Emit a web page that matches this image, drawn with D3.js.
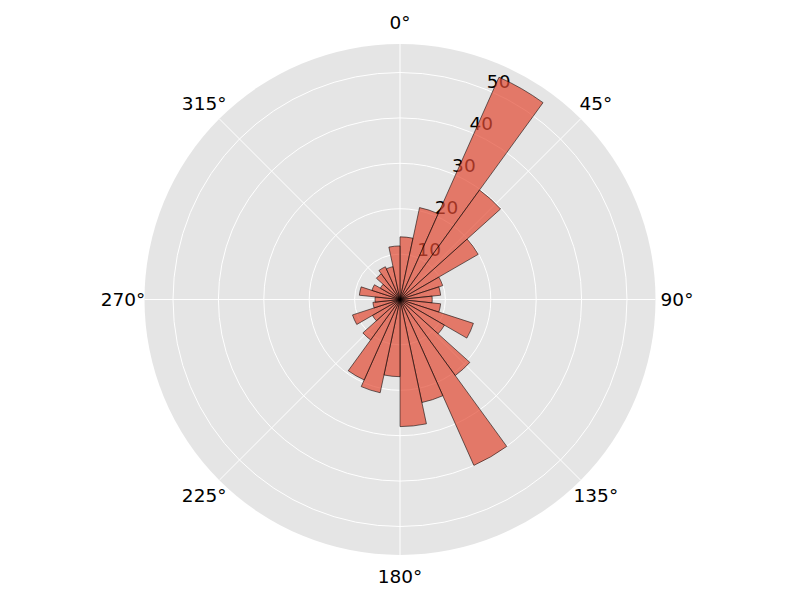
<!DOCTYPE html>
<html>
<head>
<meta charset="utf-8">
<script src="https://cdn.jsdelivr.net/npm/d3@7"></script>
<style>
  body { margin: 0; background: #fff; }
  text { font-family: "DejaVu Sans", sans-serif; }
</style>
</head>
<body>
<svg id="chart" width="800" height="600"></svg>
<script>
// bin start angles (degrees, clockwise from north), each bin 12 degrees wide
var binStarts = [0, 12, 24, 36, 48, 60, 72, 84, 96, 108, 120, 132, 144, 156, 168,
                 180, 192, 204, 216, 228, 240, 252, 264, 276, 288, 300, 312, 324, 336, 348]
var binWidth = 12
var counts = [13.8, 20.7, 53.6, 29.8, 19.9, 9.9, 9.0, 7.1, 9.0, 17.0, 11.3, 20.7, 40.0, 23.2, 28.0,
              17.0, 21.0, 19.4, 11.0, 7.0, 11.0, 6.0, 5.5, 9.0, 6.5, 5.0, 7.0, 7.9, 7.4, 11.8]
var rTicks = [10, 20, 30, 40, 50]
var thetaTicks = [0, 45, 90, 135, 180, 225, 270, 315]

var svg = d3.select("#chart")
var cx = 400, cy = 299.5, outerR = 255.5

var rmax = d3.max(counts) * 1.05
var r = d3.scaleLinear().domain([0, rmax]).range([0, outerR])
var theta = d3.scaleLinear().domain([0, 360]).range([0, 2 * Math.PI])

var g = svg.append("g").attr("transform", "translate(" + cx + "," + cy + ")")

// background disc
g.append("circle").attr("r", outerR).attr("fill", "#E5E5E5")

// ring grid
g.selectAll(".ring").data(rTicks).enter().append("circle")
  .attr("class", "ring")
  .attr("r", function(d) { return r(d) })
  .attr("fill", "none")
  .attr("stroke", "#fff")
  .attr("stroke-width", 1)

// spokes
g.selectAll(".spoke").data(thetaTicks).enter().append("line")
  .attr("class", "spoke")
  .attr("x1", 0).attr("y1", 0)
  .attr("x2", function(d) { return outerR * Math.sin(theta(d)) })
  .attr("y2", function(d) { return -outerR * Math.cos(theta(d)) })
  .attr("stroke", "#fff")
  .attr("stroke-width", 1)

// angle labels
g.selectAll(".tlabel").data(thetaTicks).enter().append("text")
  .attr("class", "tlabel")
  .attr("x", function(d) { return (outerR + 21.5) * Math.sin(theta(d)) })
  .attr("y", function(d) { return -(outerR + 21.5) * Math.cos(theta(d)) })
  .attr("dy", "0.36em")
  .attr("text-anchor", "middle")
  .attr("font-size", "18.5px")
  .attr("fill", "#000")
  .text(function(d) { return d + "°" })

// radial labels at 22.5 degrees
var labAng = theta(22.5)
g.selectAll(".rlabel").data(rTicks).enter().append("text")
  .attr("class", "rlabel")
  .attr("x", function(d) { return r(d) * Math.sin(labAng) })
  .attr("y", function(d) { return -r(d) * Math.cos(labAng) - 2 })
  .attr("text-anchor", "start")
  .attr("font-size", "18.5px")
  .attr("fill", "#000")
  .text(function(d) { return d })

// bars
var arc = d3.arc()
  .innerRadius(0)
  .outerRadius(function(d) { return r(d.v) })
  .startAngle(function(d) { return theta(d.a) })
  .endAngle(function(d) { return theta(d.a + binWidth) })

var bars = binStarts.map(function(a, i) { return { a: a, v: counts[i] } })

g.selectAll(".bar").data(bars).enter().append("path")
  .attr("class", "bar")
  .attr("d", arc)
  .attr("fill", "#E24A33")
  .attr("fill-opacity", 0.7)
  .attr("stroke", "#000")
  .attr("stroke-opacity", 0.7)
  .attr("stroke-width", 0.8)
</script>
</body>
</html>
